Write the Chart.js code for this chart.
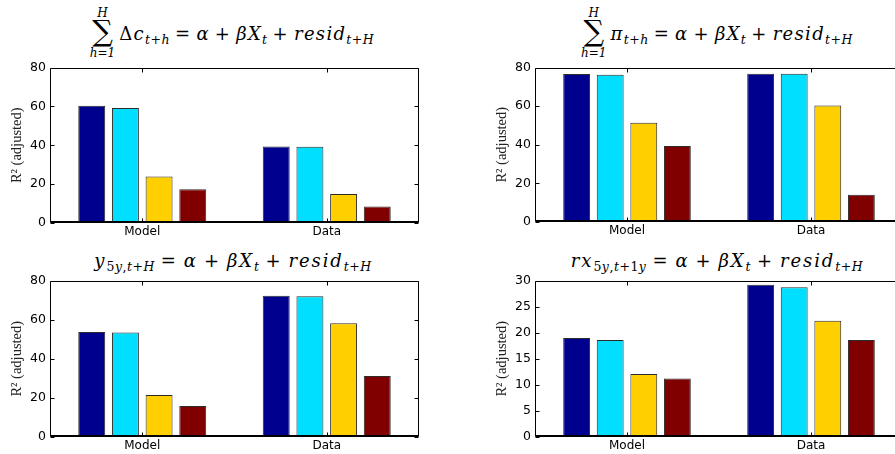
<!DOCTYPE html>
<html>
<head>
<meta charset="utf-8">
<script src="https://cdn.jsdelivr.net/npm/chart.js"></script>
<style>
html, body { margin: 0; padding: 0; background: #fff; overflow: hidden; width: 895px; height: 454px; }
.panel { position: absolute; }
.ttl {
    position: absolute; transform: translateX(-50%); white-space: nowrap;
    font-family: 'DejaVu Serif', serif; font-size: 18px; letter-spacing: 1.3px; color: #000;
    display: flex; align-items: center;
}
.ttl.wide { letter-spacing: 1.9px; }
.ttl i { font-style: italic; }
.ttl sub { font-size: 12.5px; vertical-align: -4px; line-height: 0; letter-spacing: 0.5px; }
.ttl .op { margin: 0 5px; }
.ttl.wide .op { margin: 0 6px; }
.sum { display: inline-flex; flex-direction: column; align-items: center; margin-right: 4px; letter-spacing: 0; }
.sum .sig { font-size: 29px; line-height: 26px; height: 26px; position: relative; top: -2px; }
.sum .lim { font-size: 12px; font-style: italic; line-height: 14px; height: 14px; }
</style>
</head>
<body>

<div class="ttl" style="left:232px; top:6px;">
    <span class="sum"><span class="lim">H</span><span class="sig">∑</span><span class="lim">h=1</span></span>
    <span>Δ<i>c</i><sub><i>t</i>+<i>h</i></sub><span class="op">=</span><i>α</i><span class="op">+</span><i>βX</i><sub><i>t</i></sub><span class="op">+</span><i>resid</i><sub><i>t</i>+<i>H</i></sub></span>
</div>
<div class="ttl" style="left:717px; top:6px;">
    <span class="sum"><span class="lim">H</span><span class="sig">∑</span><span class="lim">h=1</span></span>
    <span><i>π</i><sub><i>t</i>+<i>h</i></sub><span class="op">=</span><i>α</i><span class="op">+</span><i>βX</i><sub><i>t</i></sub><span class="op">+</span><i>resid</i><sub><i>t</i>+<i>H</i></sub></span>
</div>
<div class="ttl wide" style="left:233px; top:250px;">
    <span><i>y</i><sub>5<i>y</i>,<i>t</i>+<i>H</i></sub><span class="op">=</span><i>α</i><span class="op">+</span><i>βX</i><sub><i>t</i></sub><span class="op">+</span><i>resid</i><sub><i>t</i>+<i>H</i></sub></span>
</div>
<div class="ttl wide" style="left:717px; top:250px;">
    <span><i>rx</i><sub>5<i>y</i>,<i>t</i>+1<i>y</i></sub><span class="op">=</span><i>α</i><span class="op">+</span><i>βX</i><sub><i>t</i></sub><span class="op">+</span><i>resid</i><sub><i>t</i>+<i>H</i></sub></span>
</div>

<canvas id="consChart" class="panel"></canvas>
<canvas id="inflChart" class="panel"></canvas>
<canvas id="yieldChart" class="panel"></canvas>
<canvas id="excessChart" class="panel"></canvas>

<script>
// 类别
const categories = ['Model', 'Data'];

// 各面板数值 (R² adjusted)，每组四个柱
const consModel = [60.3, 59.2, 23.9, 17.3];
const consData = [39.3, 39.2, 14.9, 8.5];
const inflModel = [76.6, 76.3, 51.4, 39.3];
const inflData = [76.8, 76.8, 60.3, 14.1];
const yieldModel = [53.7, 53.4, 21.5, 15.8];
const yieldData = [72.2, 72.0, 58.1, 31.2];
const excessModel = [19.0, 18.6, 12.1, 11.2];
const excessData = [29.2, 28.7, 22.3, 18.6];

// 纵轴刻度
const yTicks80 = [0, 20, 40, 60, 80];
const yTicks30 = [0, 5, 10, 15, 20, 25, 30];

const barColors = ['rgb(0, 0, 143)', 'rgb(0, 223, 255)', 'rgb(255, 207, 0)', 'rgb(128, 0, 0)'];

// 坐标框和内向刻度线
const boxPlugin = {
    id: 'box',
    afterDatasetsDraw(chart) {
        const { ctx, chartArea: a, scales: { x, y } } = chart;
        const l = Math.round(a.left) + 0.5, r = Math.round(a.right) - 0.5;
        const t = Math.round(a.top) + 0.5, b = Math.round(a.bottom) - 0.5;
        ctx.save();
        ctx.strokeStyle = '#000';
        ctx.lineWidth = 1;
        ctx.beginPath();
        ctx.moveTo(l, t); ctx.lineTo(r, t); ctx.lineTo(r, b); ctx.lineTo(l, b); ctx.closePath();
        // 底边略粗
        ctx.moveTo(l, b - 1); ctx.lineTo(r, b - 1);
        y.ticks.forEach((tk, i) => {
            const py = Math.round(y.getPixelForTick(i)) + 0.5;
            ctx.moveTo(l, py); ctx.lineTo(l + 4, py);
            ctx.moveTo(r - 4, py); ctx.lineTo(r, py);
        });
        x.ticks.forEach((tk, i) => {
            const px = Math.round(x.getPixelForTick(i)) + 0.5;
            ctx.moveTo(px, b); ctx.lineTo(px, b - 4);
            ctx.moveTo(px, t); ctx.lineTo(px, t + 4);
        });
        ctx.stroke();
        ctx.restore();
    }
};

// 创建一个面板
function makePanel(id, plot, model, data, tickVals) {
    const el = document.getElementById(id);
    const padTop = 10, padRight = 6, yW = 50, xH = 22;
    const w = plot.right - plot.left + yW + padRight;
    const h = plot.bottom - plot.top + padTop + xH;
    el.width = w; el.height = h;
    el.style.left = (plot.left - yW) + 'px';
    el.style.top = (plot.top - padTop) + 'px';
    el.style.width = w + 'px';
    el.style.height = h + 'px';

    const datasets = model.map((v, i) => ({
        label: 'S' + (i + 1),
        data: [model[i], data[i]],
        backgroundColor: barColors[i],
        borderColor: '#2b2b2b',
        borderWidth: 1,
        categoryPercentage: 0.73,
        barPercentage: 0.8
    }));

    new Chart(el, {
        type: 'bar',
        data: { labels: categories, datasets: datasets },
        options: {
            responsive: false,
            animation: false,
            layout: { padding: { top: padTop, right: padRight, left: 0, bottom: 0 } },
            plugins: { legend: { display: false }, tooltip: { enabled: false } },
            scales: {
                x: {
                    offset: true,
                    grid: { display: false, drawTicks: false },
                    border: { display: false },
                    ticks: { color: '#000', padding: 2, font: { family: 'DejaVu Sans', size: 12 } },
                    afterFit: s => { s.height = xH; }
                },
                y: {
                    min: 0,
                    max: tickVals[tickVals.length - 1],
                    afterBuildTicks: s => { s.ticks = tickVals.map(v => ({ value: v })); },
                    grid: { display: false, drawTicks: false },
                    border: { display: false },
                    ticks: { color: '#000', padding: 4, font: { family: 'DejaVu Sans', size: 12.5 } },
                    title: {
                        display: true,
                        text: 'R² (adjusted)',
                        color: '#222',
                        padding: { top: 8, bottom: 0 },
                        font: { family: 'Liberation Serif', size: 14.5 }
                    },
                    afterFit: s => { s.width = yW; }
                }
            }
        },
        plugins: [boxPlugin]
    });
}

makePanel('consChart', { left: 50, right: 419, top: 66, bottom: 223 }, consModel, consData, yTicks80);
makePanel('inflChart', { left: 535, right: 903, top: 66, bottom: 222 }, inflModel, inflData, yTicks80);
makePanel('yieldChart', { left: 50, right: 419, top: 279, bottom: 437 }, yieldModel, yieldData, yTicks80);
makePanel('excessChart', { left: 535, right: 903, top: 279, bottom: 437 }, excessModel, excessData, yTicks30);
</script>
</body>
</html>
